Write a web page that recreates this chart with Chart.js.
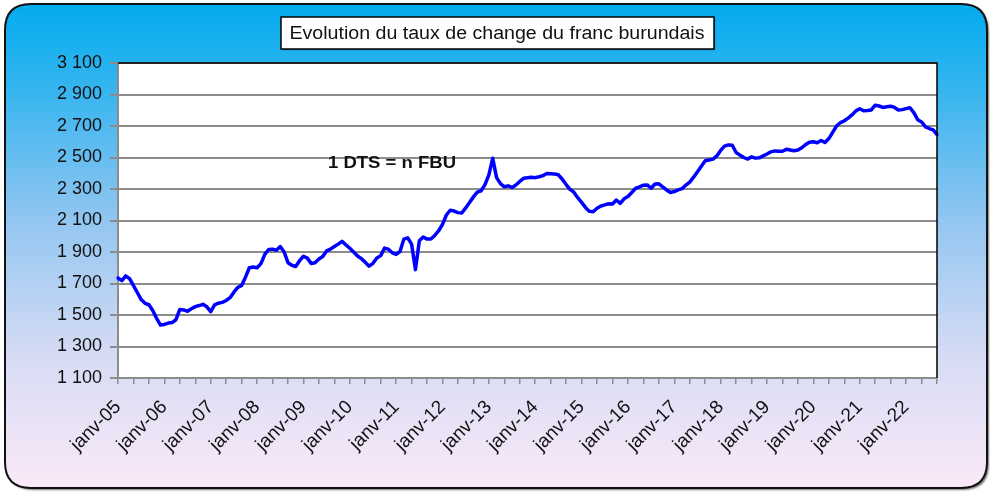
<!DOCTYPE html>
<html><head><meta charset="utf-8">
<script src="https://cdn.jsdelivr.net/npm/chart.js@4.4.0/dist/chart.umd.min.js"></script>
<style>html,body{margin:0;padding:0;background:#fff;overflow:hidden}#wrap{position:relative;width:990px;height:492px}</style>
</head><body><div id="wrap"><canvas id="c" width="990" height="492"></canvas></div>
<script>
// ---- data ----
const monthNames = ['janv','févr','mars','avr','mai','juin','juil','août','sept','oct','nov','déc'];
const years = ['05','06','07','08','09','10','11','12','13','14','15','16','17','18','19','20','21','22'];
const yearTickLabels = ['janv-05','janv-06','janv-07','janv-08','janv-09','janv-10','janv-11','janv-12','janv-13','janv-14','janv-15','janv-16','janv-17','janv-18','janv-19','janv-20','janv-21','janv-22'];
const v2005 = [1735,1718,1748,1731,1687,1643,1598,1574,1565,1529,1478,1436];
const v2006 = [1440,1449,1452,1470,1535,1532,1524,1540,1553,1560,1568,1552];
const v2007 = [1522,1565,1575,1580,1592,1610,1645,1675,1688,1740,1800,1805];
const v2008 = [1800,1826,1885,1916,1918,1911,1935,1900,1832,1816,1808,1845];
const v2009 = [1873,1861,1827,1832,1855,1871,1907,1918,1935,1950,1968,1945];
const v2010 = [1924,1900,1875,1858,1835,1810,1828,1862,1877,1925,1918,1895];
const v2011 = [1885,1903,1982,1990,1950,1788,1972,1995,1982,1982,2005,2035];
const v2012 = [2075,2135,2165,2160,2150,2148,2180,2215,2250,2280,2289,2328];
const v2013 = [2390,2495,2372,2334,2314,2320,2310,2325,2348,2368,2372,2375];
const v2014 = [2372,2378,2385,2398,2397,2395,2390,2362,2328,2298,2280,2245];
const v2015 = [2215,2183,2158,2156,2178,2192,2199,2206,2205,2230,2209,2238];
const v2016 = [2252,2278,2305,2313,2324,2326,2305,2332,2333,2314,2294,2278];
const v2017 = [2284,2294,2302,2325,2344,2375,2410,2445,2479,2484,2490,2510];
const v2018 = [2545,2572,2580,2578,2532,2515,2500,2490,2504,2496,2498,2510];
const v2019 = [2522,2536,2542,2540,2540,2552,2548,2543,2547,2562,2582,2597];
const v2020 = [2600,2594,2608,2595,2620,2660,2700,2722,2733,2750,2770,2796];
const v2021 = [2810,2797,2798,2802,2832,2827,2818,2822,2826,2818,2802,2804];
const v2022 = [2810,2816,2785,2740,2726,2695,2684,2675,2645];
const yAxisTicks = [1100,1300,1500,1700,1900,2100,2300,2500,2700,2900,3100];
const titleText = 'Evolution du taux de change du franc burundais';
const noteText = '1 DTS = n FBU';

const yearly = [v2005,v2006,v2007,v2008,v2009,v2010,v2011,v2012,v2013,v2014,v2015,v2016,v2017,v2018,v2019,v2020,v2021,v2022];
const values = [];
const labels = [];
yearly.forEach((arr, yi) => arr.forEach((v, mi) => { values.push(v); labels.push(monthNames[mi] + '-' + years[yi]); }));

function fmt(v){ const t = Math.floor(v/1000); const r = v % 1000; return t > 0 ? t + ' ' + String(r).padStart(3,'0') : String(r); }

function roundRect(ctx, x, y, w, h, r){
  ctx.beginPath();
  ctx.moveTo(x+r, y); ctx.lineTo(x+w-r, y); ctx.quadraticCurveTo(x+w, y, x+w, y+r);
  ctx.lineTo(x+w, y+h-r); ctx.quadraticCurveTo(x+w, y+h, x+w-r, y+h);
  ctx.lineTo(x+r, y+h); ctx.quadraticCurveTo(x, y+h, x, y+h-r);
  ctx.lineTo(x, y+r); ctx.quadraticCurveTo(x, y, x+r, y); ctx.closePath();
}
function stretchedText(ctx, text, font, cx, cy, targetW, align){
  ctx.save();
  ctx.font = font; ctx.textBaseline = 'middle'; ctx.textAlign = 'left'; ctx.fillStyle = '#111';
  const w = ctx.measureText(text).width; const sx = targetW / w;
  const left = align === 'left' ? cx : cx - targetW/2;
  ctx.translate(left, cy); ctx.scale(sx, 1); ctx.fillText(text, 0, 0);
  ctx.restore();
}

const decor = {
  id: 'decor',
  beforeDraw(chart){
    const ctx = chart.ctx, a = chart.chartArea;
    ctx.save();
    ctx.fillStyle = '#ffffff'; ctx.fillRect(0,0,chart.width,chart.height);
    const g = ctx.createLinearGradient(0, 4, 0, 488);
    g.addColorStop(0, '#03acee');
    g.addColorStop(0.15, '#2db3ef');
    g.addColorStop(0.45, '#93c6f1');
    g.addColorStop(0.72, '#d5dbf4');
    g.addColorStop(1, '#fbe9f8');
    ctx.shadowColor = 'rgba(0,0,0,0.55)'; ctx.shadowOffsetX = 2; ctx.shadowOffsetY = 2; ctx.shadowBlur = 2;
    roundRect(ctx, 5, 4, 982, 484, 26);
    ctx.fillStyle = g; ctx.fill();
    ctx.shadowColor = 'transparent';
    ctx.lineWidth = 2; ctx.strokeStyle = '#111'; ctx.stroke();
    ctx.fillStyle = '#ffffff';
    ctx.fillRect(a.left, a.top, a.right - a.left, a.bottom - a.top);
    ctx.restore();
  },
  afterDraw(chart){
    const ctx = chart.ctx, a = chart.chartArea;
    ctx.save();
    ctx.strokeStyle = '#000'; ctx.lineWidth = 1.5;
    ctx.beginPath(); ctx.moveTo(a.left, a.top); ctx.lineTo(a.right, a.top); ctx.lineTo(a.right, a.bottom); ctx.stroke();
    // title box
    ctx.shadowColor = 'rgba(0,0,0,0.35)'; ctx.shadowOffsetX = 1; ctx.shadowOffsetY = 1; ctx.shadowBlur = 1;
    ctx.fillStyle = '#fff'; ctx.fillRect(281, 17, 433, 32);
    ctx.shadowColor = 'transparent';
    ctx.lineWidth = 1.5; ctx.strokeStyle = '#000'; ctx.strokeRect(281, 17, 433, 32);
    ctx.restore();
    stretchedText(ctx, titleText, '18px "Liberation Sans", Arial, sans-serif', 497, 34, 415, 'center');
    stretchedText(ctx, noteText, 'bold 16px "Liberation Sans", Arial, sans-serif', 328, 164, 128, 'left');
  }
};

new Chart(document.getElementById('c').getContext('2d'), {
  type: 'line',
  data: { labels: labels, datasets: [{ data: values, borderColor: '#0000ff', borderWidth: 3.5, pointRadius: 0, tension: 0, fill: false, borderJoinStyle: 'round', borderCapStyle: 'round' }] },
  options: {
    responsive: false, animation: false,
    layout: { padding: { top: 63, right: 53, left: 0, bottom: 0 } },
    plugins: { legend: { display: false }, tooltip: { enabled: false }, title: { display: false } },
    scales: {
      x: {
        type: 'category', offset: false,
        afterFit: s => { s.height = 114; },
        border: { display: true, color: '#8c8c8c', width: 2 },
        grid: { drawOnChartArea: false, drawTicks: true, tickLength: 6, lineWidth: 1.5,
                color: c => (c.index % 4 === 0 ? '#8c8c8c' : 'rgba(0,0,0,0)') },
        ticks: { autoSkip: false, minRotation: 45, maxRotation: 45, padding: 12, color: '#111',
                 font: { family: '"Liberation Sans", Arial, sans-serif', size: 19 },
                 callback: (v, i) => (i % 12 === 0 ? yearTickLabels[i / 12] : '') }
      },
      y: {
        min: yAxisTicks[0], max: yAxisTicks[yAxisTicks.length - 1],
        afterFit: s => { s.width = 118; },
        afterBuildTicks: s => { s.ticks = yAxisTicks.map(v => ({ value: v })); },
        border: { display: true, color: '#8c8c8c', width: 2 },
        grid: { color: '#8c8c8c', lineWidth: 2, tickLength: 8, drawTicks: true },
        ticks: { padding: 8, color: '#111', font: { family: '"Liberation Sans", Arial, sans-serif', size: 18 },
                 callback: v => fmt(v) }
      }
    }
  },
  plugins: [decor]
});
</script></body></html>
